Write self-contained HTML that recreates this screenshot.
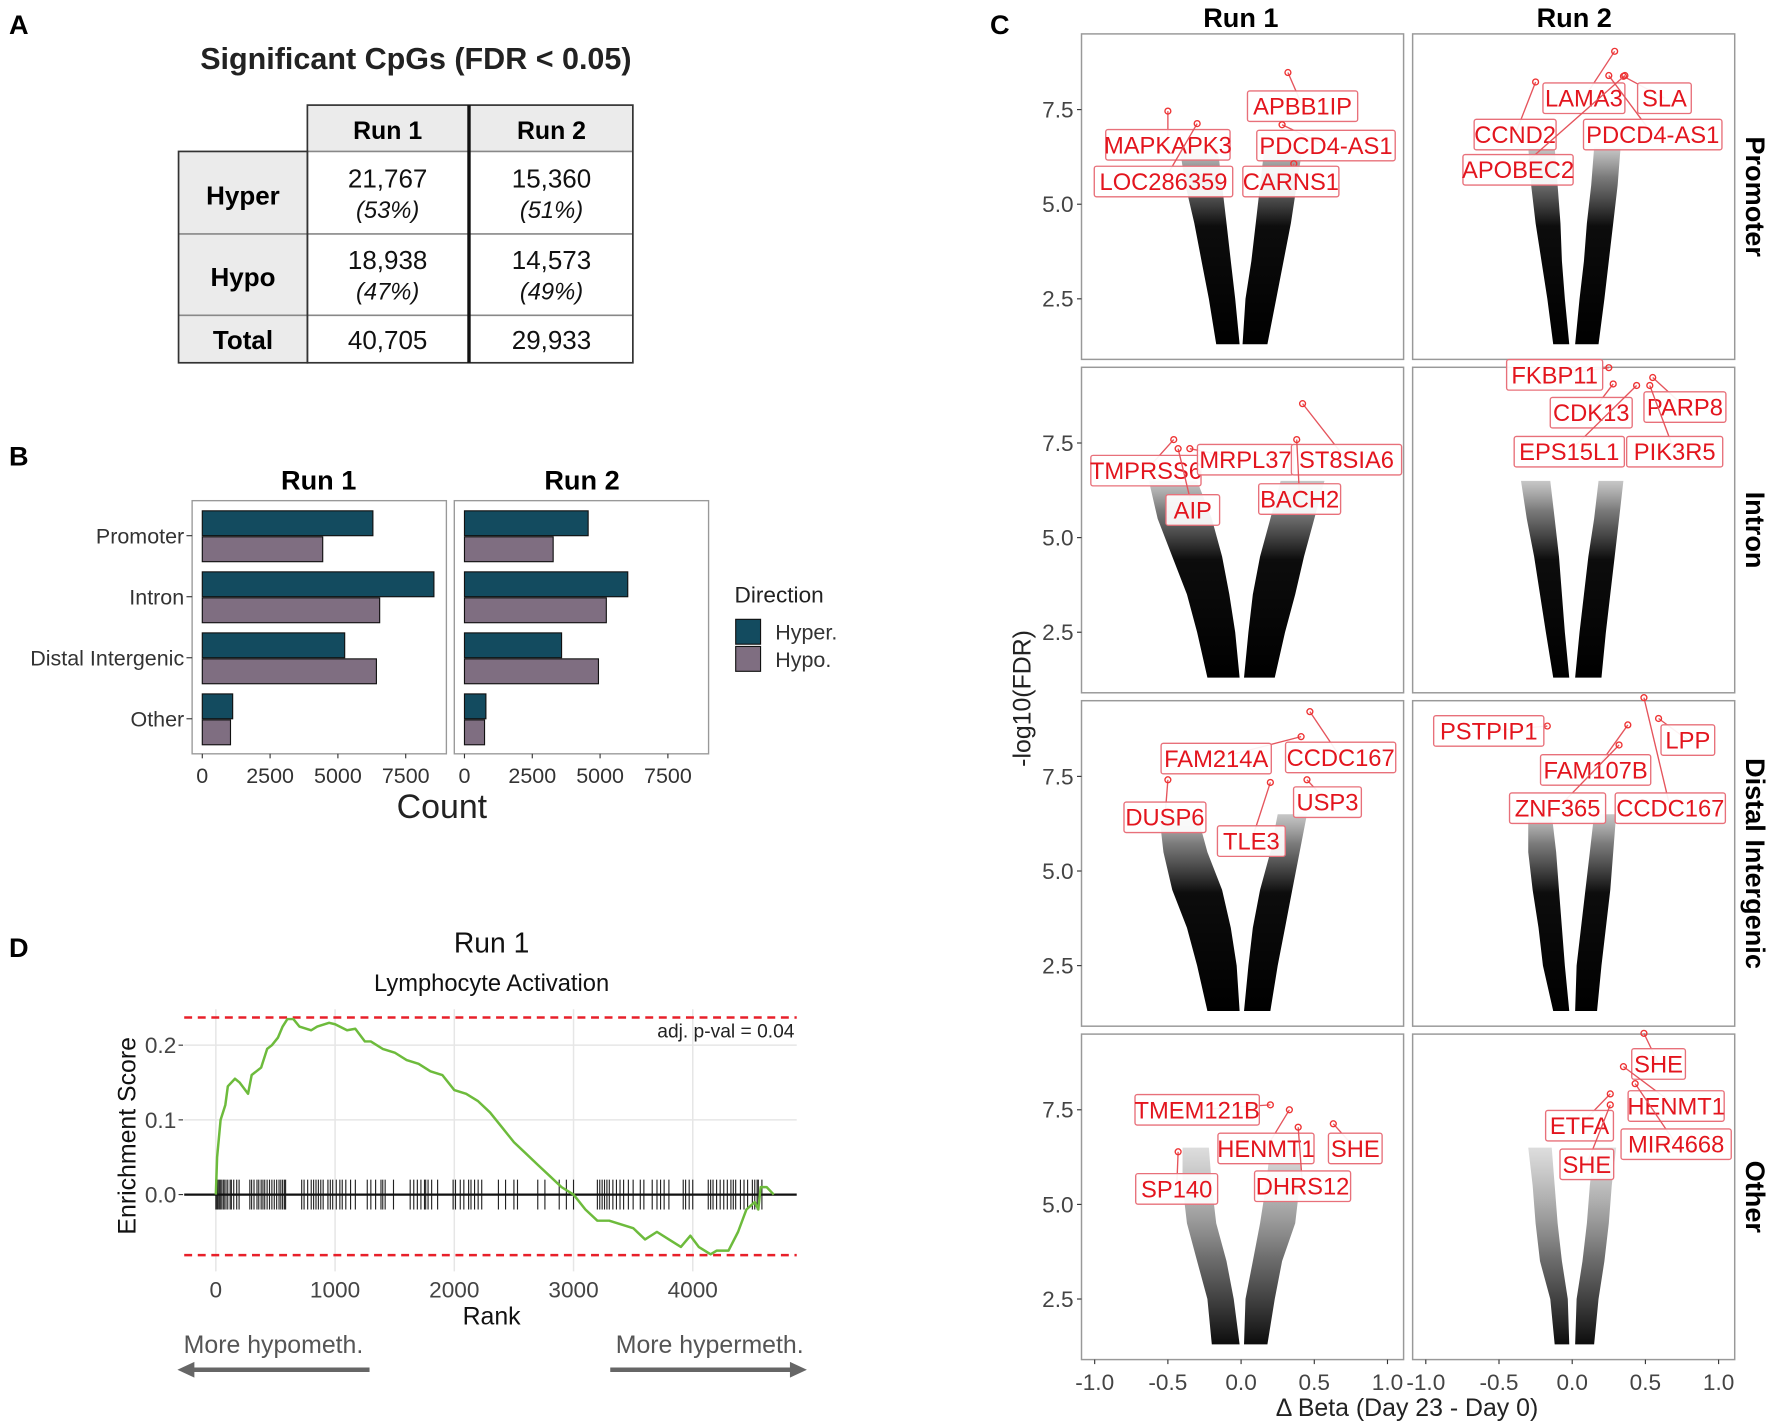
<!DOCTYPE html>
<html><head><meta charset="utf-8">
<style>
html,body{margin:0;padding:0;background:#fff;}
svg{display:block;font-family:"Liberation Sans",sans-serif;}
.nar{font-family:"Liberation Sans Narrow","Liberation Sans",sans-serif;}
</style></head>
<body>
<svg id="fig" width="1772" height="1424" viewBox="0 0 1568 1260" preserveAspectRatio="none" xmlns="http://www.w3.org/2000/svg">
<defs>
<linearGradient id="gradDense" x1="0" y1="1" x2="0" y2="0">
<stop offset="0" stop-color="#000" stop-opacity="1"/>
<stop offset="0.6" stop-color="#000" stop-opacity="0.95"/>
<stop offset="0.85" stop-color="#222" stop-opacity="0.6"/>
<stop offset="1" stop-color="#444" stop-opacity="0.3"/>
</linearGradient>
<linearGradient id="gradSparse" x1="0" y1="1" x2="0" y2="0">
<stop offset="0" stop-color="#000" stop-opacity="0.95"/>
<stop offset="0.45" stop-color="#111" stop-opacity="0.6"/>
<stop offset="1" stop-color="#555" stop-opacity="0.2"/>
</linearGradient>
</defs>
<rect width="1568" height="1260" fill="#fff"/>

<text x="8" y="30" font-size="24" font-weight="bold">A</text>
<text x="8" y="412" font-size="24" font-weight="bold">B</text>
<text x="876" y="30" font-size="24" font-weight="bold">C</text>
<text x="8" y="847" font-size="24" font-weight="bold">D</text>

<g>
<text x="368" y="61" font-size="27" font-weight="bold" text-anchor="middle" fill="#222">Significant CpGs (FDR &lt; 0.05)</text>
<rect x="272" y="93" width="288" height="41" fill="#ebebeb"/>
<rect x="158" y="134" width="114" height="187" fill="#ebebeb"/>
<line x1="158" y1="207" x2="560" y2="207" stroke="#888" stroke-width="1.5"/>
<line x1="158" y1="279" x2="560" y2="279" stroke="#888" stroke-width="1.5"/>
<line x1="272" y1="134" x2="560" y2="134" stroke="#888" stroke-width="1.5"/>
<rect x="272" y="93" width="288" height="228" fill="none" stroke="#333" stroke-width="1.5"/>
<rect x="158" y="134" width="114" height="187" fill="none" stroke="#333" stroke-width="1.5"/>
<line x1="415" y1="93" x2="415" y2="321" stroke="#111" stroke-width="3"/>
<text x="343" y="123" font-size="22" font-weight="bold" text-anchor="middle">Run 1</text>
<text x="488" y="123" font-size="22" font-weight="bold" text-anchor="middle">Run 2</text>
<text x="215" y="181" font-size="23" font-weight="bold" text-anchor="middle">Hyper</text>
<text x="215" y="253" font-size="23" font-weight="bold" text-anchor="middle">Hypo</text>
<text x="215" y="309" font-size="23" font-weight="bold" text-anchor="middle">Total</text>
<g font-size="23" text-anchor="middle" fill="#111">
<text x="343" y="166">21,767</text>
<text x="343" y="193" font-size="21" font-style="italic">(53%)</text>
<text x="488" y="166">15,360</text>
<text x="488" y="193" font-size="21" font-style="italic">(51%)</text>
<text x="343" y="238">18,938</text>
<text x="343" y="265" font-size="21" font-style="italic">(47%)</text>
<text x="488" y="238">14,573</text>
<text x="488" y="265" font-size="21" font-style="italic">(49%)</text>
<text x="343" y="309">40,705</text>
<text x="488" y="309">29,933</text>
</g>
</g>

<g>
<text x="282" y="433" font-size="24" font-weight="bold" text-anchor="middle">Run 1</text>
<text x="515" y="433" font-size="24" font-weight="bold" text-anchor="middle">Run 2</text>
<text x="391" y="724" font-size="30" text-anchor="middle" fill="#222">Count</text>
<text x="650" y="533" font-size="20" fill="#222">Direction</text>
<rect x="651" y="548" width="22" height="22" fill="#134b5f" stroke="#111"/>
<rect x="651" y="572" width="22" height="22" fill="#7f6e81" stroke="#111"/>
<text x="686" y="566" font-size="19" fill="#333">Hyper.</text>
<text x="686" y="590" font-size="19" fill="#333">Hypo.</text>
<g id="barLayer"></g>
</g>

<g>
<text x="1098" y="24" font-size="24" font-weight="bold" text-anchor="middle">Run 1</text>
<text x="1393" y="24" font-size="24" font-weight="bold" text-anchor="middle">Run 2</text>
<text transform="translate(1545,174) rotate(90)" font-size="24" font-weight="bold" text-anchor="middle">Promoter</text>
<text transform="translate(1545,469) rotate(90)" font-size="24" font-weight="bold" text-anchor="middle">Intron</text>
<text transform="translate(1545,764) rotate(90)" font-size="24" font-weight="bold" text-anchor="middle">Distal Intergenic</text>
<text transform="translate(1545,1059) rotate(90)" font-size="24" font-weight="bold" text-anchor="middle">Other</text>
<text transform="translate(912,618) rotate(-90)" font-size="22" text-anchor="middle" fill="#222">-log10(FDR)</text>
<text x="1245" y="1253" font-size="22" text-anchor="middle" fill="#222">Δ Beta (Day 23 - Day 0)</text>
<g id="volcLayer"></g>
</g>

<g class="nar">
<text x="435" y="843" font-size="25" text-anchor="middle" fill="#111">Run 1</text>
<text x="435" y="877" font-size="21" text-anchor="middle" fill="#111">Lymphocyte Activation</text>
<text transform="translate(120,1005) rotate(-90)" font-size="22" text-anchor="middle" fill="#111">Enrichment Score</text>
<text x="435" y="1172" font-size="22" text-anchor="middle" fill="#111">Rank</text>
<text x="703" y="918" font-size="17" text-anchor="end" fill="#222">adj. p-val = 0.04</text>
<text x="242" y="1197" font-size="22" text-anchor="middle" fill="#555">More hypometh.</text>
<text x="628" y="1197" font-size="22" text-anchor="middle" fill="#555">More hypermeth.</text>
<g>
<line x1="168" y1="1212" x2="327" y2="1212" stroke="#666" stroke-width="4"/>
<polygon points="157,1212 172,1205 172,1219" fill="#666"/>
</g>
<g>
<line x1="540" y1="1212" x2="703" y2="1212" stroke="#666" stroke-width="4"/>
<polygon points="714,1212 699,1205 699,1219" fill="#666"/>
</g>
<g id="gseaLayer"></g>
</g>
</svg>

<script>
// ===== Panel B data =====
const barCategories = ["Promoter", "Intron", "Distal Intergenic", "Other"];
const barTicks = [0, 2500, 5000, 7500];
const run1Hyper = [6290, 8540, 5250, 1120];
const run1Hypo = [4440, 6540, 6420, 1040];
const run2Hyper = [4560, 6020, 3580, 790];
const run2Hypo = [3270, 5230, 4940, 740];

// ===== Panel C data =====
const volcTicksX = [-1.0, -0.5, 0.0, 0.5, 1.0];
const volcTickLabelsX = ["-1.0", "-0.5", "0.0", "0.5", "1.0"];
const volcTicksY = [2.5, 5.0, 7.5];
const volcLevels = [1.3, 2.5, 3.5, 4.5, 5.5, 6.5];
const promR1_LO = [-0.17,-0.22,-0.27,-0.32,-0.38,-0.42];
const promR1_LI = [-0.01,-0.04,-0.07,-0.10,-0.13,-0.16];
const promR1_RI = [0.01,0.03,0.07,0.10,0.13,0.16];
const promR1_RO = [0.18,0.24,0.29,0.34,0.38,0.42];
const promR2_LO = [-0.13,-0.17,-0.21,-0.25,-0.28,-0.30];
const promR2_LI = [-0.02,-0.05,-0.07,-0.08,-0.10,-0.12];
const promR2_RI = [0.02,0.05,0.08,0.10,0.13,0.15];
const promR2_RO = [0.18,0.22,0.25,0.28,0.31,0.33];
const intrR1_LO = [-0.23,-0.30,-0.37,-0.47,-0.57,-0.63];
const intrR1_LI = [-0.01,-0.04,-0.08,-0.13,-0.20,-0.30];
const intrR1_RI = [0.02,0.05,0.08,0.13,0.20,0.27];
const intrR1_RO = [0.23,0.30,0.37,0.43,0.50,0.57];
const intrR2_LO = [-0.13,-0.18,-0.22,-0.26,-0.31,-0.35];
const intrR2_LI = [-0.02,-0.05,-0.07,-0.09,-0.12,-0.15];
const intrR2_RI = [0.02,0.05,0.08,0.11,0.15,0.18];
const intrR2_RO = [0.20,0.23,0.26,0.29,0.32,0.35];
const distR1_LO = [-0.23,-0.30,-0.37,-0.47,-0.53,-0.56];
const distR1_LI = [-0.01,-0.03,-0.07,-0.13,-0.23,-0.30];
const distR1_RI = [0.02,0.05,0.08,0.13,0.20,0.25];
const distR1_RO = [0.20,0.25,0.30,0.35,0.40,0.45];
const distR2_LO = [-0.13,-0.20,-0.23,-0.27,-0.30,-0.30];
const distR2_LI = [-0.02,-0.05,-0.07,-0.09,-0.11,-0.14];
const distR2_RI = [0.02,0.03,0.06,0.09,0.12,0.15];
const distR2_RO = [0.17,0.20,0.23,0.26,0.28,0.30];
const othR1_LO = [-0.20,-0.23,-0.30,-0.37,-0.40,-0.40];
const othR1_LI = [-0.01,-0.05,-0.10,-0.17,-0.20,-0.22];
const othR1_RI = [0.02,0.03,0.08,0.13,0.17,0.20];
const othR1_RO = [0.18,0.23,0.28,0.37,0.40,0.42];
const othR2_LO = [-0.12,-0.15,-0.22,-0.25,-0.27,-0.30];
const othR2_LI = [-0.02,-0.03,-0.07,-0.10,-0.12,-0.14];
const othR2_RI = [0.02,0.03,0.07,0.10,0.12,0.15];
const othR2_RO = [0.15,0.18,0.22,0.25,0.27,0.30];

const promR1_genes = ["APBB1IP","MAPKAPK3","PDCD4-AS1","LOC286359","CARNS1"];
const promR1_boxX = [0.42,-0.50,0.58,-0.53,0.34];
const promR1_boxY = [7.59,6.57,6.55,5.60,5.60];
const promR1_ptX = [0.32,-0.50,0.28,-0.30,0.36];
const promR1_ptY = [8.48,7.46,7.10,7.13,6.07];
const promR2_genes = ["LAMA3","SLA","CCND2","PDCD4-AS1","APOBEC2"];
const promR2_boxX = [0.08,0.63,-0.39,0.55,-0.37];
const promR2_boxY = [7.80,7.80,6.84,6.84,5.91];
const promR2_ptX = [0.29,0.35,-0.25,0.25,0.36];
const promR2_ptY = [9.04,8.38,8.23,8.40,8.40];
const intrR1_genes = ["TMPRSS6","MRPL37","ST8SIA6","AIP","BACH2"];
const intrR1_boxX = [-0.65,0.03,0.72,-0.33,0.40];
const intrR1_boxY = [6.77,7.06,7.06,5.73,6.02];
const intrR1_ptX = [-0.46,-0.35,0.42,-0.43,0.38];
const intrR1_ptY = [7.59,7.35,8.54,7.35,7.59];
const intrR2_genes = ["FKBP11","CDK13","PARP8","EPS15L1","PIK3R5"];
const intrR2_boxX = [-0.12,0.13,0.77,-0.02,0.70];
const intrR2_boxY = [9.30,8.30,8.45,7.27,7.27];
const intrR2_ptX = [0.25,0.28,0.55,0.44,0.53];
const intrR2_ptY = [9.49,9.06,9.23,9.02,9.02];
const distR1_genes = ["FAM214A","CCDC167","DUSP6","USP3","TLE3"];
const distR1_boxX = [-0.17,0.68,-0.52,0.59,0.07];
const distR1_boxY = [7.97,8.00,6.42,6.82,5.79];
const distR1_ptX = [0.41,0.47,-0.50,0.45,0.20];
const distR1_ptY = [8.55,9.21,7.41,7.41,7.34];
const distR2_genes = ["PSTPIP1","LPP","FAM107B","ZNF365","CCDC167"];
const distR2_boxX = [-0.57,0.79,0.16,-0.10,0.67];
const distR2_boxY = [8.70,8.46,7.67,6.66,6.66];
const distR2_ptX = [-0.17,0.59,0.38,0.32,0.49];
const distR2_ptY = [8.83,9.03,8.86,8.33,9.58];
const othR1_genes = ["TMEM121B","HENMT1","SHE","SP140","DHRS12"];
const othR1_boxX = [-0.30,0.17,0.78,-0.44,0.42];
const othR1_boxY = [7.50,6.48,6.48,5.41,5.48];
const othR1_ptX = [0.20,0.33,0.63,-0.43,0.39];
const othR1_ptY = [7.63,7.50,7.13,6.39,7.04];
const othR2_genes = ["SHE","HENMT1","ETFA","MIR4668","SHE"];
const othR2_boxX = [0.59,0.71,0.05,0.71,0.10];
const othR2_boxY = [8.71,7.60,7.08,6.59,6.06];
const othR2_ptX = [0.49,0.35,0.26,0.43,0.26];
const othR2_ptY = [9.52,8.64,7.92,8.19,7.63];

// ===== Panel D data =====
const gseaRank = [0,10,40,80,100,160,200,270,300,380,430,470,520,560,600,650,700,800,850,950,1000,1100,1170,1250,1300,1400,1500,1600,1700,1800,1900,2000,2100,2200,2300,2400,2500,2600,2700,2800,2900,3000,3100,3200,3300,3400,3500,3600,3700,3800,3900,3980,4050,4150,4200,4300,4380,4450,4520,4550,4570,4620,4680];
const gseaES = [0,0.05,0.10,0.12,0.145,0.155,0.15,0.135,0.16,0.17,0.195,0.20,0.21,0.225,0.235,0.235,0.225,0.22,0.225,0.23,0.228,0.22,0.222,0.205,0.205,0.195,0.19,0.18,0.175,0.165,0.16,0.14,0.135,0.125,0.11,0.09,0.07,0.055,0.04,0.025,0.01,0.0,-0.02,-0.035,-0.035,-0.04,-0.045,-0.06,-0.05,-0.06,-0.07,-0.055,-0.07,-0.08,-0.075,-0.075,-0.05,-0.02,-0.01,-0.02,0.01,0.01,0.0];
const gseaHits = [0,8,15,25,35,45,60,70,85,100,120,130,150,175,195,285,300,320,345,360,380,395,410,430,450,470,490,510,530,545,560,575,585,720,740,770,800,820,840,860,880,900,940,960,980,1010,1040,1060,1090,1130,1170,1270,1300,1340,1385,1400,1420,1490,1630,1660,1690,1720,1750,1760,1780,1810,1860,1990,2010,2050,2080,2120,2140,2170,2200,2230,2370,2430,2500,2530,2700,2760,2880,2940,3000,3200,3220,3240,3260,3280,3300,3330,3360,3390,3420,3460,3500,3560,3590,3660,3700,3730,3760,3800,3920,3940,3970,4000,4130,4150,4170,4200,4230,4260,4290,4320,4340,4360,4400,4430,4460,4500,4520,4540,4550,4580];
const gseaTicksX = [0,1000,2000,3000,4000];
const gseaTicksY = [0.0, 0.1, 0.2];
const gseaTickLabelsY = ["0.0","0.1","0.2"];
const gseaMaxES = 0.237;
const gseaMinES = -0.081;

const NS = "http://www.w3.org/2000/svg";
function mk(tag, attrs, parent) {
  const e = document.createElementNS(NS, tag);
  for (const k in attrs) e.setAttribute(k, attrs[k]);
  parent.appendChild(e);
  return e;
}

(function () {
  const layer = document.getElementById('barLayer');
  const panels = [{left:170, zero:179, hyper:run1Hyper, hypo:run1Hypo, id:'run1'},
                  {left:402, zero:411, hyper:run2Hyper, hypo:run2Hypo, id:'run2'}];
  const top = 443, bottom = 667, pxPer = 24 / 1000;
  const centers = [474, 528, 582, 636];
  const bx = (p, v) => p.zero + v * pxPer;
  panels.forEach(function (p) {
    const fr = mk('rect', {x:p.left, y:top, width:225, height:bottom-top, fill:'#fff', stroke:'#999', 'stroke-width':1.2}, layer);
    
    
    barCategories.forEach(function (c, i) {
      const h = mk('rect', {x:p.zero, y:centers[i]-22, width:bx(p,p.hyper[i])-p.zero, height:22, fill:'#134b5f', stroke:'#111', 'stroke-width':1}, layer);
      
      
      const o = mk('rect', {x:p.zero, y:centers[i]+1, width:bx(p,p.hypo[i])-p.zero, height:22, fill:'#7f6e81', stroke:'#111', 'stroke-width':1}, layer);
      
      
    });
    barTicks.forEach(function (t) {
      const x = bx(p, t);
      mk('line', {x1:x, y1:bottom, x2:x, y2:bottom+4, stroke:'#333'}, layer);
      const tl = mk('text', {x:x, y:693, 'font-size':19, 'text-anchor':'middle', fill:'#333'}, layer);
      tl.textContent = String(t);
      
      
    });
  });
  barCategories.forEach(function (c, i) {
    mk('line', {x1:165, y1:centers[i], x2:170, y2:centers[i], stroke:'#333'}, layer);
    const t = mk('text', {x:163, y:centers[i]+7, 'font-size':19, 'text-anchor':'end', fill:'#333'}, layer);
    t.textContent = c;
    
    
  });
})();

(function () {
  const layer = document.getElementById('volcLayer');
  const cols = [957, 1250], W = 285, H = 288;
  const rowsTop = [30, 325, 620, 915];
  const XMIN = -1.09, XMAX = 1.11, YMIN = 0.9, YMAX = 9.5;
  const sx = (c, v) => cols[c] + (v - XMIN) / (XMAX - XMIN) * W;
  const sy = (r, v) => rowsTop[r] + H - (v - YMIN) / (YMAX - YMIN) * H;
  const env = [
    [[promR1_LO,promR1_LI,promR1_RI,promR1_RO],[promR2_LO,promR2_LI,promR2_RI,promR2_RO]],
    [[intrR1_LO,intrR1_LI,intrR1_RI,intrR1_RO],[intrR2_LO,intrR2_LI,intrR2_RI,intrR2_RO]],
    [[distR1_LO,distR1_LI,distR1_RI,distR1_RO],[distR2_LO,distR2_LI,distR2_RI,distR2_RO]],
    [[othR1_LO,othR1_LI,othR1_RI,othR1_RO],[othR2_LO,othR2_LI,othR2_RI,othR2_RO]]
  ];
  const genes = [
    [[promR1_genes,promR1_boxX,promR1_boxY,promR1_ptX,promR1_ptY],[promR2_genes,promR2_boxX,promR2_boxY,promR2_ptX,promR2_ptY]],
    [[intrR1_genes,intrR1_boxX,intrR1_boxY,intrR1_ptX,intrR1_ptY],[intrR2_genes,intrR2_boxX,intrR2_boxY,intrR2_ptX,intrR2_ptY]],
    [[distR1_genes,distR1_boxX,distR1_boxY,distR1_ptX,distR1_ptY],[distR2_genes,distR2_boxX,distR2_boxY,distR2_ptX,distR2_ptY]],
    [[othR1_genes,othR1_boxX,othR1_boxY,othR1_ptX,othR1_ptY],[othR2_genes,othR2_boxX,othR2_boxY,othR2_ptX,othR2_ptY]]
  ];
  const rowNames = ['promoter','intron','distal','other'];
  function armPoly(c, r, outer, inner) {
    const pts = [];
    const n = volcLevels.length;
    for (let i = 0; i < n; i++) pts.push(sx(c, outer[i]).toFixed(1) + ',' + sy(r, volcLevels[i]).toFixed(1));
    for (let i = n - 1; i >= 0; i--) pts.push(sx(c, inner[i]).toFixed(1) + ',' + sy(r, volcLevels[i]).toFixed(1));
    return pts.join(' ');
  }
  for (let r = 0; r < 4; r++) {
    for (let c = 0; c < 2; c++) {
      const g = mk('g', {}, layer);
      
      
      const fr = mk('rect', {x:cols[c], y:rowsTop[r], width:W, height:H, fill:'#fff', stroke:'#999', 'stroke-width':1.3}, g);
      
      
      const e = env[r][c];
      const fill = r === 3 ? 'url(#gradSparse)' : 'url(#gradDense)';
      [[0,1],[2,3]].forEach(function (pair, ai) {
        const pg = mk('polygon', {points: armPoly(c, r, e[pair[0]], e[pair[1]]), fill: fill}, g);
        
        
      });
      const gd = genes[r][c];
      for (let i = 0; i < gd[0].length; i++) {
        const px = sx(c, gd[3][i]), py = sy(r, gd[4][i]);
        const lx = sx(c, gd[1][i]), ly = sy(r, gd[2][i]);
        const w = gd[0][i].length * 12.5 + 10, h = 27;
        mk('line', {x1:px, y1:py, x2:lx, y2:ly, stroke:'#e5545c', 'stroke-width':1.2}, g);
        const pt = mk('circle', {cx:px, cy:py, r:2.6, fill:'none', stroke:'#e33', 'stroke-width':1.2}, g);
        
        
        const box = mk('rect', {x:lx-w/2, y:ly-h/2, width:w, height:h, rx:2, fill:'#fff', 'fill-opacity':0.92, stroke:'#e8707a', 'stroke-width':1.2}, g);
        
        
        const tx = mk('text', {x:lx, y:ly+7.5, 'font-size':21, 'text-anchor':'middle', fill:'#e3151e'}, g);
        tx.textContent = gd[0][i];
        
        
      }
      if (c === 0) {
        volcTicksY.forEach(function (t) {
          const y = sy(r, t);
          mk('line', {x1:cols[0]-4, y1:y, x2:cols[0], y2:y, stroke:'#333'}, layer);
          const tl = mk('text', {x:cols[0]-7, y:y+7, 'font-size':20, 'text-anchor':'end', fill:'#444'}, layer);
          tl.textContent = t.toFixed(1);
          
          
        });
      }
      if (r === 3) {
        volcTicksX.forEach(function (t, k) {
          const x = sx(c, t);
          mk('line', {x1:x, y1:rowsTop[3]+H, x2:x, y2:rowsTop[3]+H+4, stroke:'#333'}, layer);
          const tl = mk('text', {x:x, y:1230, 'font-size':20, 'text-anchor':'middle', fill:'#444'}, layer);
          tl.textContent = volcTickLabelsX[k];
          
          
        });
      }
    }
  }
})();

(function () {
  const layer = document.getElementById('gseaLayer');
  const L = 163, R = 705, T = 893, B = 1125;
  const gx = v => 191 + v * 0.1055;
  const gy = v => 1057 - v * 661;
  gseaTicksX.forEach(function (t) {
    mk('line', {x1:gx(t), y1:T, x2:gx(t), y2:B, stroke:'#e6e6e6', 'stroke-width':1.3}, layer);
    const tl = mk('text', {x:gx(t), y:1148, 'font-size':20, 'text-anchor':'middle', fill:'#444'}, layer);
    tl.textContent = String(t);
    
    
  });
  gseaTicksY.forEach(function (t, k) {
    if (t !== 0) mk('line', {x1:L, y1:gy(t), x2:R, y2:gy(t), stroke:'#e6e6e6', 'stroke-width':1.3}, layer);
    mk('line', {x1:L-5, y1:gy(t), x2:L-1, y2:gy(t), stroke:'#333'}, layer);
    const tl = mk('text', {x:L-7, y:gy(t)+7, 'font-size':20, 'text-anchor':'end', fill:'#444'}, layer);
    tl.textContent = gseaTickLabelsY[k];
    
    
  });
  const mx = mk('line', {x1:L, y1:gy(gseaMaxES), x2:R, y2:gy(gseaMaxES), stroke:'#e8202a', 'stroke-width':2.2, 'stroke-dasharray':'7 5'}, layer);
  
  
  const mn = mk('line', {x1:L, y1:gy(gseaMinES), x2:R, y2:gy(gseaMinES), stroke:'#e8202a', 'stroke-width':2.2, 'stroke-dasharray':'7 5'}, layer);
  
  
  const rug = mk('g', {}, layer);
  
  
  gseaHits.forEach(function (h) {
    const tk = mk('line', {x1:gx(h), y1:gy(0.02), x2:gx(h), y2:gy(-0.02), stroke:'#222', 'stroke-width':1}, rug);
    
    
  });
  const zl = mk('line', {x1:L, y1:gy(0), x2:R, y2:gy(0), stroke:'#111', 'stroke-width':2}, layer);
  
  
  const d = gseaRank.map((r, i) => (i ? 'L' : 'M') + gx(r).toFixed(1) + ',' + gy(gseaES[i]).toFixed(1)).join(' ');
  const p = mk('path', {d:d, fill:'none', stroke:'#6dbb3c', 'stroke-width':2.2, 'stroke-linejoin':'round'}, layer);
  
  
})();
</script>
</body></html>
